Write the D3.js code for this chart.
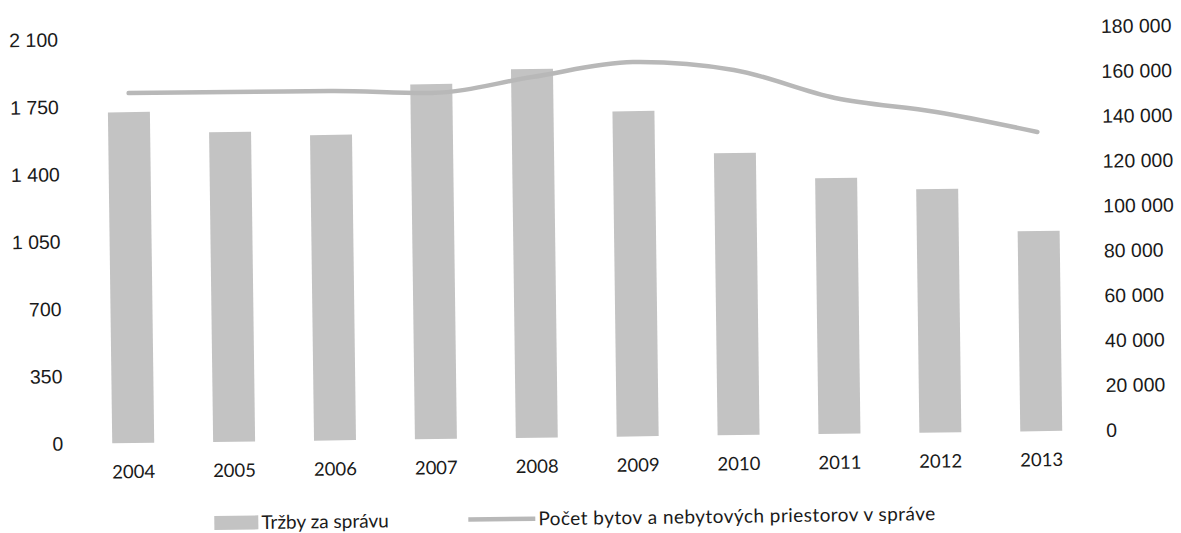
<!DOCTYPE html>
<html>
<head>
<meta charset="utf-8">
<script src="https://cdn.jsdelivr.net/npm/d3@7"></script>
<style>
  html, body { margin: 0; padding: 0; background: #fff; }
  svg { display: block; }
  .axis text { fill: #1a1a1a; }
</style>
</head>
<body>
<svg id="chart" width="1181" height="533"></svg>
<script>
"use strict";

/* ── Data ─────────────────────────────────────────── */
const years   = ["2004", "2005", "2006", "2007", "2008", "2009", "2010", "2011", "2012", "2013"];
const trzby   = [1720, 1610, 1588, 1845, 1917, 1691, 1466, 1330, 1265, 1040];
const pocet   = [155900, 155800, 155700, 154200, 160700, 166800, 162700, 149600, 142800, 133300];
const leftTicks  = [0, 350, 700, 1050, 1400, 1750, 2100];
const rightTicks = [0, 20000, 40000, 60000, 80000, 100000, 120000, 140000, 160000, 180000];
const legendLabels = ["Tržby za správu", "Počet bytov a nebytových priestorov v správe"];

/* ── Layout ───────────────────────────────────────── */
const TOP = 33, BASE = 437;
const BAR_FILL = "#c3c3c3", LINE_COL = "#b8b8b8";

const fmt = d3.formatLocale({ decimal: ",", thousands: " ", grouping: [3] }).format(",d");

const svg = d3.select("#chart");
// the source is a slightly tilted scan
const g = svg.append("g").attr("transform", "rotate(-0.75, 590, 266)");

const x = d3.scaleBand().domain(years).range([80.5, 1089.5])
  .paddingInner(0.584).paddingOuter(0.292);
const yL = d3.scaleLinear().domain([0, 2100]).range([BASE, TOP]);
const yR = d3.scaleLinear().domain([0, 180000]).range([BASE, TOP]);

/* Axes (no lines, labels only) */
g.append("g").attr("class", "axis")
  .attr("transform", "translate(64,0)")
  .call(d3.axisLeft(yL).tickValues(leftTicks).tickSize(0).tickPadding(3).tickFormat(fmt))
  .call(a => a.select(".domain").remove())
  .selectAll("text").attr("font-family", "Liberation Sans, Arial, sans-serif").attr("font-size", 19.5);

g.append("g").attr("class", "axis")
  .attr("transform", "translate(1101,0)")
  .call(d3.axisRight(yR).tickValues(rightTicks).tickSize(0).tickPadding(3).tickFormat(fmt))
  .call(a => a.select(".domain").remove())
  .selectAll("text").attr("font-family", "Liberation Sans, Arial, sans-serif").attr("font-size", 19.5);

g.append("g").attr("class", "axis")
  .attr("transform", `translate(0,${BASE})`)
  .call(d3.axisBottom(x).tickSize(0).tickPadding(22))
  .call(a => a.select(".domain").remove())
  .selectAll("text").attr("font-family", "Lato, sans-serif").attr("font-size", 18.5);

/* Bars */
g.append("g").selectAll("rect")
  .data(years)
  .join("rect")
  .attr("x", d => x(d))
  .attr("width", x.bandwidth())
  .attr("y", (d, i) => yL(trzby[i]))
  .attr("height", (d, i) => BASE - yL(trzby[i]))
  .attr("fill", BAR_FILL);

/* Line */
const line = d3.line()
  .x((d, i) => x(years[i]) + x.bandwidth() / 2)
  .y(d => yR(d))
  .curve(d3.curveMonotoneX);

g.append("path")
  .datum(pocet)
  .attr("d", line)
  .attr("fill", "none")
  .attr("stroke", LINE_COL)
  .attr("stroke-width", 4.5)
  .attr("stroke-linecap", "round");

/* Legend */
const lg = g.append("g").attr("font-family", "Lato, sans-serif").attr("font-size", 19).attr("fill", "#1a1a1a");
const LY = 518;
lg.append("rect").attr("x", 211).attr("y", LY - 7).attr("width", 44).attr("height", 14).attr("fill", BAR_FILL);
lg.append("text").attr("x", 258).attr("y", LY).attr("dy", "0.35em").text(legendLabels[0]);
lg.append("line").attr("x1", 465).attr("x2", 532).attr("y1", LY).attr("y2", LY)
  .attr("stroke", LINE_COL).attr("stroke-width", 4.5);
lg.append("text").attr("x", 535).attr("y", LY).attr("dy", "0.35em")
  .attr("letter-spacing", 0.45).text(legendLabels[1]);
</script>
</body>
</html>
